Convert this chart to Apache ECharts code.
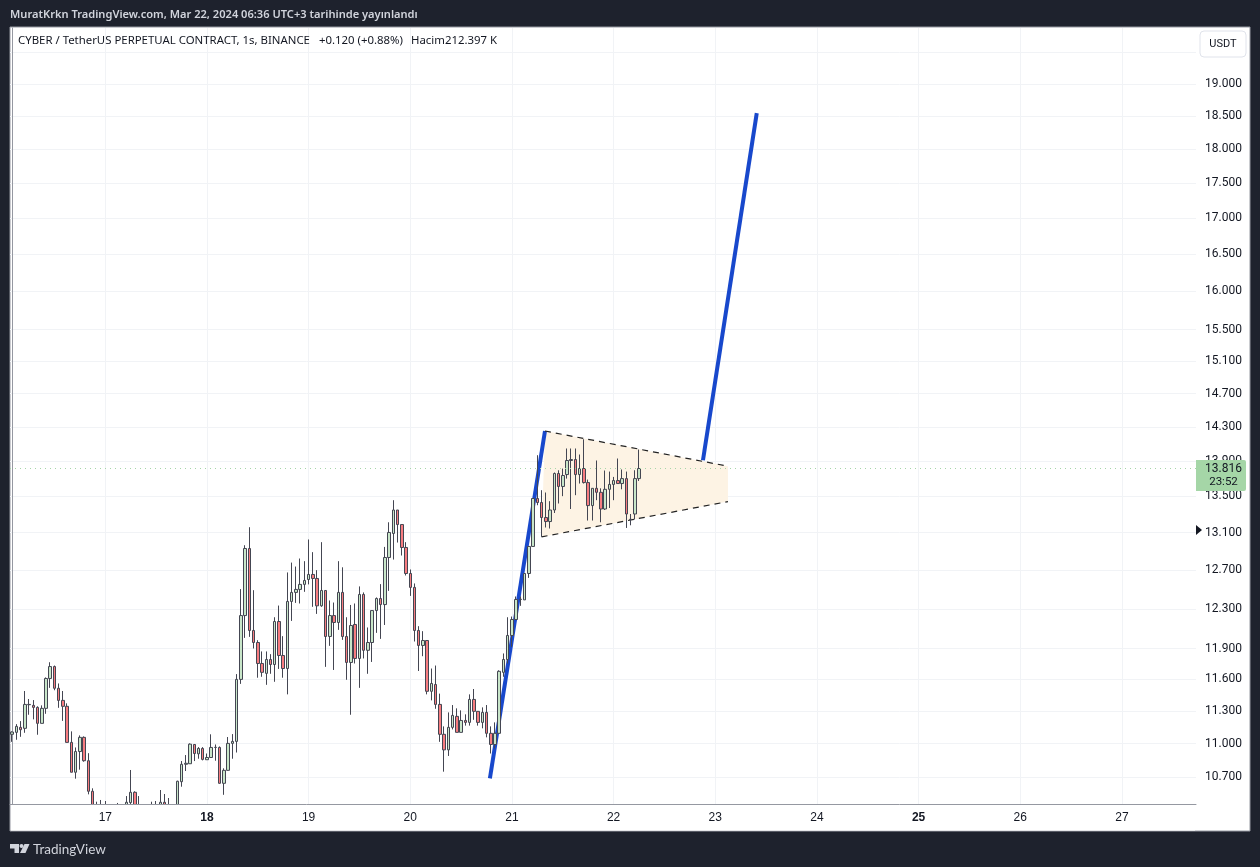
<!DOCTYPE html>
<html><head><meta charset="utf-8">
<style>html,body{margin:0;padding:0;background:#1e222d}#c{width:1260px;height:867px}</style>
<script src="https://cdn.jsdelivr.net/npm/echarts@6/dist/echarts.min.js"></script>
</head><body><div id="c"></div>
<script>
const opens=[11.085,11.103,11.149,11.140,11.360,11.354,11.335,11.186,11.326,11.610,11.725,11.516,11.401,11.345,11.011,10.742,10.928,11.057,10.845,10.574,
10.40,10.38,10.40,10.42,10.39,10.37,10.39,10.40,10.475,10.565,10.42,10.40,10.38,10.40,10.42,10.41,10.478,10.42,10.41,10.43,
10.658,10.813,10.818,10.992,10.907,10.956,10.854,10.874,10.965,10.965,10.644,10.759,11.002,11.020,11.601,12.231,12.930,12.081,11.961,11.755,
11.659,11.794,11.745,12.171,11.833,11.706,12.375,12.468,12.499,12.551,12.602,12.655,12.613,12.330,12.488,12.021,12.231,12.161,12.468,12.021,
11.765,12.141,11.804,12.447,11.884,11.961,12.282,12.405,12.343,12.834,13.092,13.349,13.189,12.941,12.665,12.520,12.081,11.932,11.981,11.487,
11.552,11.363,11.085,10.943,11.149,11.251,11.103,11.213,11.195,11.410,11.298,11.195,11.288,11.094,10.992,11.094,11.669,11.794,12.031,12.191,
12.395,12.391,12.665,12.952,13.477,13.432,13.266,13.222,13.349,13.759,13.612,13.747,13.908,13.919,13.747,13.816,13.656,13.398,13.591,13.546,
13.360,13.580,13.635,13.679,13.645,13.701,13.244,13.305,13.701];
const closes=[11.106,11.158,11.127,11.363,11.363,11.335,11.186,11.326,11.610,11.725,11.516,11.401,11.345,11.011,10.742,10.928,11.057,10.845,10.574,10.40,
10.38,10.40,10.42,10.39,10.37,10.39,10.40,10.478,10.565,10.42,10.40,10.38,10.40,10.42,10.41,10.478,10.42,10.41,10.43,10.662,
10.813,10.822,10.995,10.910,10.956,10.857,10.874,10.965,10.966,10.644,10.759,11.002,11.020,11.601,12.231,12.930,12.081,11.961,11.755,11.669,
11.794,11.745,12.171,11.833,11.706,12.375,12.468,12.499,12.551,12.592,12.655,12.613,12.330,12.488,12.021,12.231,12.161,12.468,12.021,11.765,
12.131,11.804,12.447,11.884,11.961,12.282,12.405,12.343,12.834,13.103,13.349,13.189,12.941,12.665,12.520,12.081,11.932,11.981,11.487,11.562,
11.363,11.085,10.943,11.149,11.260,11.103,11.213,11.195,11.410,11.298,11.195,11.288,11.094,10.992,11.094,11.679,11.794,12.031,12.191,12.395,
12.398,12.665,12.952,13.477,13.432,13.266,13.222,13.349,13.759,13.612,13.736,13.908,13.919,13.747,13.816,13.656,13.398,13.591,13.546,13.360,
13.580,13.635,13.679,13.645,13.701,13.305,13.247,13.701,13.816];
const lows=[11.016,11.035,11.062,11.099,11.266,11.223,11.081,11.186,11.275,11.520,11.497,11.331,11.209,11.011,10.742,10.685,10.765,10.836,10.547,10.36,
10.33,10.34,10.36,10.35,10.33,10.34,10.35,10.37,10.40,10.38,10.36,10.34,10.35,10.37,10.37,10.38,10.39,10.37,10.38,10.40,
10.614,10.753,10.818,10.842,10.863,10.848,10.854,10.871,10.845,10.640,10.543,10.756,10.863,10.919,11.558,12.007,12.017,11.902,11.617,11.626,
11.549,11.655,11.578,11.702,11.617,11.458,12.177,12.360,12.354,12.474,12.551,12.320,12.248,12.320,11.722,11.928,11.692,12.087,11.987,11.597,
11.266,11.755,11.520,11.804,11.655,11.770,12.057,11.997,12.136,12.484,12.812,12.994,12.855,12.644,12.432,11.971,11.682,11.826,11.458,11.401,
11.322,11.016,10.747,10.888,11.130,11.103,11.103,11.165,11.165,11.219,11.165,11.140,11.057,10.910,10.956,11.094,11.626,11.755,11.918,12.191,
12.330,12.391,12.619,12.952,13.402,13.055,13.157,13.146,13.316,13.421,13.503,13.701,13.360,13.514,13.645,13.645,13.233,13.233,13.458,13.214,
13.349,13.371,13.458,13.645,13.580,13.152,13.181,13.244,13.674];
const highs=[11.112,11.179,11.207,11.490,11.414,11.404,11.345,11.354,11.620,11.767,11.735,11.562,11.490,11.373,11.112,10.965,11.075,11.066,10.913,10.600,
10.483,10.498,10.489,10.46,10.45,10.472,10.46,10.532,10.762,10.574,10.532,10.45,10.46,10.483,10.489,10.585,10.550,10.515,10.46,10.667,
10.842,10.896,11.002,10.995,10.968,10.968,10.910,11.085,10.992,10.974,10.777,11.060,11.087,11.652,12.502,12.965,13.160,12.491,11.984,11.873,
11.873,11.846,12.214,12.333,12.024,12.676,12.780,12.738,12.823,12.795,13.027,12.891,12.700,12.998,12.488,12.385,12.364,12.795,12.730,12.214,
12.339,12.354,12.530,12.468,12.111,12.282,12.416,12.554,12.947,13.214,13.458,13.349,13.189,12.998,12.707,12.561,12.124,12.074,11.981,11.706,
11.735,11.465,11.158,11.288,11.357,11.326,11.307,11.270,11.458,11.509,11.298,11.335,11.357,11.158,11.195,11.689,11.853,12.214,12.221,12.426,
12.426,12.665,12.952,13.477,13.969,13.570,13.544,13.447,13.770,13.796,13.815,14.047,14.047,14.047,13.977,14.155,13.690,13.591,13.908,13.591,
13.793,13.781,13.720,13.931,13.805,13.781,13.305,13.796,14.035];

const slotCount=280;
const dayTickSlots=[22,46,70,94,118,142,166,190,214,238,262];
const dayTickLabels=['17','18','19','20','21','22','23','24','25','26','27'];
const priceTicks=[19.5,19,18.5,18,17.5,17,16.5,16,15.5,15.1,14.7,14.3,13.9,13.5,13.1,12.7,12.3,11.9,11.6,11.3,11,10.7];
const priceMin=10.463, priceMax=19.902;
const lastPrice=13.816;

const poleSlots=[112.8,125.8];
const polePrices=[10.688,14.252];
const projectionSlots=[163.1,175.8];
const projectionPrices=[13.911,18.547];
const flagTopSlots=[125.8,169.0];
const flagTopPrices=[14.252,13.842];
const flagBottomSlots=[125.0,169.0];
const flagBottomPrices=[13.055,13.443];

const categories=Array.from({length:slotCount},(_,i)=>String(i));
const candles=opens.map((o,i)=>[o,closes[i],lows[i],highs[i]]);
const zip=(a,b)=>a.map((v,i)=>[v,b[i]]);
const font='Roboto, "Liberation Sans", sans-serif';
const tickFont='"Liberation Sans",sans-serif';
const dark='#1e222d', frame='#9598a1', gridColor='#f1f3f6', ink='#131722';

const chart=echarts.init(document.getElementById('c'),null,{renderer:'canvas'});
chart.setOption({
  animation:false,
  backgroundColor:dark,
  grid:{left:10,top:28,width:1186,height:776,containLabel:false},
  xAxis:[
    {type:'category',data:categories,show:false,boundaryGap:true},
    {type:'value',min:-0.5,max:slotCount-0.5,position:'bottom',
     axisLine:{show:false},axisLabel:{show:false},
     axisTick:{show:false,customValues:dayTickSlots},
     splitLine:{show:true,lineStyle:{color:gridColor,width:1}}},
    {type:'value',min:-0.5,max:slotCount-0.5,position:'bottom',z:12,
     axisLine:{show:true,onZero:false,lineStyle:{color:frame,width:1}},
     axisTick:{show:false,customValues:dayTickSlots},
     splitLine:{show:false},
     axisLabel:{customValues:dayTickSlots,margin:8,color:ink,fontFamily:tickFont,fontSize:12,
       formatter:v=>{const s=dayTickLabels[dayTickSlots.indexOf(v)]||'';return (s==='18'||s==='25')?'{b|'+s+'}':s;},
       rich:{b:{fontWeight:'bold',fontSize:12,color:ink,fontFamily:tickFont}}}}
  ],
  yAxis:{type:'log',logBase:10,min:priceMin,max:priceMax,position:'right',
     axisLine:{show:true,lineStyle:{color:frame,width:1}},
     axisTick:{show:false,customValues:priceTicks},
     splitLine:{show:true,lineStyle:{color:gridColor,width:1}},
     axisLabel:{customValues:priceTicks,margin:9,color:ink,fontFamily:font,fontSize:12,formatter:v=>Number(v).toFixed(3)}},
  series:[
    {type:'custom',xAxisIndex:1,yAxisIndex:0,z:1,silent:true,
     data:[[flagTopSlots[0],flagTopPrices[0]]],
     renderItem:(p,api)=>({type:'polygon',shape:{points:[
        api.coord([flagTopSlots[0],flagTopPrices[0]]),api.coord([flagTopSlots[1],flagTopPrices[1]]),
        api.coord([flagBottomSlots[1],flagBottomPrices[1]]),api.coord([flagBottomSlots[0],flagBottomPrices[0]])]},
        style:{fill:'#fdf3e4'}})},
    {type:'line',xAxisIndex:1,z:2,data:zip(poleSlots,polePrices),symbol:'none',silent:true,lineStyle:{color:'#1848cc',width:4}},
    {type:'line',xAxisIndex:1,z:2,data:zip(projectionSlots,projectionPrices),symbol:'none',silent:true,lineStyle:{color:'#1848cc',width:4}},
    {type:'line',xAxisIndex:1,z:2,data:zip(flagTopSlots,flagTopPrices),symbol:'none',silent:true,lineStyle:{color:'#222',width:1.2,type:[6,5]}},
    {type:'line',xAxisIndex:1,z:2,data:zip(flagBottomSlots,flagBottomPrices),symbol:'none',silent:true,lineStyle:{color:'#222',width:1.2,type:[6,5]}},
    {type:'candlestick',xAxisIndex:0,z:3,data:candles,barWidth:3,silent:true,
     itemStyle:{color:'#c8e6c9',color0:'#f77c80',borderColor:'#444652',borderColor0:'#444652',borderWidth:1},
     markLine:{silent:true,symbol:'none',animation:false,label:{show:false},
       lineStyle:{color:'#a5d6a7',type:[1,4],width:1},data:[{yAxis:lastPrice}]}}
  ],
  graphic:[
    {type:'rect',z:-10,silent:true,shape:{x:10,y:27,width:1240,height:804},style:{fill:'#fff',stroke:frame,lineWidth:1}},
    {type:'rect',z:5,silent:true,shape:{x:11,y:804.5,width:1184,height:26},style:{fill:'#fff'}},
    {type:'text',z:10,x:10,y:15,style:{text:'MuratKrkn TradingView.com, Mar 22, 2024 06:36 UTC+3 tarihinde yayınlandı',fill:'#d1d4dc',font:'600 11.1px "Noto Sans"',textVerticalAlign:'middle'}},
    {type:'text',z:10,x:18,y:41,style:{text:'CYBER / TetherUS PERPETUAL CONTRACT, 1s, BINANCE',fill:ink,font:'11.4px "Noto Sans"',textVerticalAlign:'middle'}},
    {type:'text',z:10,x:319,y:41,style:{text:'+0.120 (+0.88%)',fill:ink,font:'11.4px "Noto Sans"',textVerticalAlign:'middle'}},
    {type:'text',z:10,x:411,y:41,style:{text:'Hacim212.397 K',fill:ink,font:'11.4px "Noto Sans"',textVerticalAlign:'middle'}},
    {type:'rect',z:10,silent:true,shape:{x:1200,y:31,width:46,height:26,r:4},style:{fill:'#fff',stroke:'#e0e3eb',lineWidth:1}},
    {type:'text',z:11,x:1223,y:44,style:{text:'USDT',fill:ink,font:'11px '+font,textAlign:'center',textVerticalAlign:'middle'}},
    {type:'rect',z:10,silent:true,shape:{x:1196,y:460,width:50,height:31,r:[0,2,2,0]},style:{fill:'#a5d6a7'}},
    {type:'text',z:11,x:1223.5,y:468.5,style:{text:'13.816',fill:ink,font:'12px '+font,textAlign:'center',textVerticalAlign:'middle'}},
    {type:'text',z:11,x:1223.5,y:482,style:{text:'23:52',fill:ink,font:'11.5px '+font,textAlign:'center',textVerticalAlign:'middle'}},
    {type:'polygon',z:11,silent:true,shape:{points:[[1196,525],[1202,530],[1196,535]]},style:{fill:'#131722'}},
    {type:'polygon',z:10,silent:true,shape:{points:[[10,844],[19,844],[19,853],[14.5,853],[14.5,848.5],[10,848.5]]},style:{fill:'#d1d4dc'}},
    {type:'circle',z:10,silent:true,shape:{cx:21.5,cy:846,r:2},style:{fill:'#d1d4dc'}},
    {type:'polygon',z:10,silent:true,shape:{points:[[24.5,844],[29.5,844],[25.5,853],[20,853]]},style:{fill:'#d1d4dc'}},
    {type:'text',z:10,x:33,y:849.5,style:{text:'TradingView',fill:'#d1d4dc',font:'13.5px Lato',textVerticalAlign:'middle'}}
  ]
});
</script></body></html>
